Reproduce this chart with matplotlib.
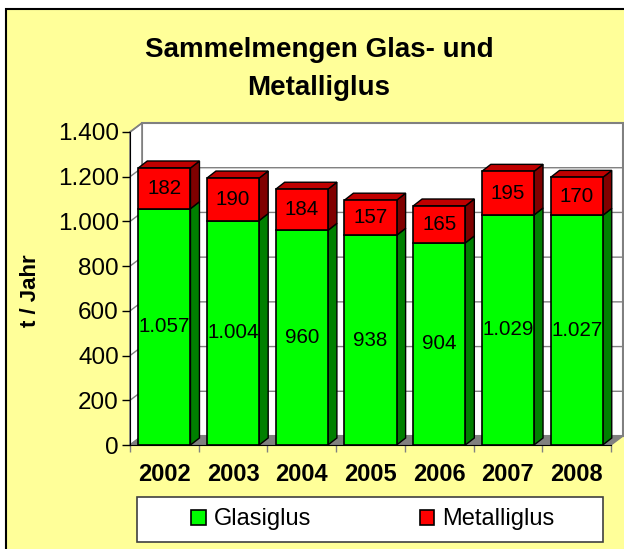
import matplotlib
matplotlib.use("Agg")
import matplotlib.pyplot as plt
from matplotlib.patches import Polygon, Rectangle
from matplotlib.ticker import FuncFormatter

plt.rcParams['font.family'] = ['Liberation Sans', 'DejaVu Sans']

# data
years = ['2002', '2003', '2004', '2005', '2006', '2007', '2008']
glas = [1057, 1004, 960, 938, 904, 1029, 1027]
metall = [182, 190, 184, 157, 165, 195, 170]
y_ticks = [0, 200, 400, 600, 800, 1000, 1200, 1400]

W, H = 624, 549
BG = '#FFFF99'


def de(v):
    # german thousands separator
    return "{:,}".format(int(v)).replace(",", ".")


fig = plt.figure(figsize=(W / 100, H / 100), dpi=100, facecolor='white')
fig.add_artist(Rectangle((6 / W, -0.01), 1.1, (H - 9) / H + 0.01,
                         transform=fig.transFigure, facecolor=BG,
                         edgecolor='black', lw=1.5, zorder=0))

ax = fig.add_axes([130 / W, (H - 445) / H, 481 / W, 313 / H])
ax.set_facecolor('none')
ax.set_xlim(0, 7)
ax.set_ylim(0, 1400)

# pixel -> data units
ux = 7 / 481
uy = 1400 / 313
wdx, wdy = 12 * ux, 9 * uy   # wall depth
bdx, bdy = 9 * ux, 7 * uy    # bar depth

# walls + floor
ax.add_patch(Rectangle((wdx, wdy), 7, 1400, facecolor='white', edgecolor='#808080',
                       lw=1.5, clip_on=False, zorder=0.5))
ax.add_patch(Polygon([(0, 0), (wdx, wdy), (wdx, 1400 + wdy), (0, 1400)], closed=True,
                     facecolor='white', edgecolor='#808080', lw=1.2, clip_on=False, zorder=0.5))
for v in y_ticks[1:]:
    ax.plot([0, wdx, 7 + wdx], [v, v + wdy, v + wdy], color='#808080', lw=1,
            clip_on=False, zorder=0.6)
ax.add_patch(Polygon([(0, 0), (7, 0), (7 + wdx, wdy), (wdx, wdy)], closed=True,
                     facecolor='#808080', edgecolor='#808080', lw=1, clip_on=False, zorder=0.7))

# bars
x = [i + 0.5 for i in range(len(years))]
bw = 0.76
bars_g = ax.bar(x, glas, bw, color='#00FF00', edgecolor='black', lw=1.2, zorder=3)
bars_m = ax.bar(x, metall, bw, bottom=glas, color='#FF0000', edgecolor='black', lw=1.2, zorder=3)

for xi, g, m in zip(x, glas, metall):
    r = xi + bw / 2
    l = xi - bw / 2
    t = g + m
    ax.add_patch(Polygon([(r, 0), (r + bdx, bdy), (r + bdx, g + bdy), (r, g)], closed=True,
                         facecolor='#008000', edgecolor='black', lw=1, zorder=2.5, clip_on=False))
    ax.add_patch(Polygon([(r, g), (r + bdx, g + bdy), (r + bdx, t + bdy), (r, t)], closed=True,
                         facecolor='#800000', edgecolor='black', lw=1, zorder=2.5, clip_on=False))
    ax.add_patch(Polygon([(l, t), (l + bdx, t + bdy), (r + bdx, t + bdy), (r, t)], closed=True,
                         facecolor='#C00000', edgecolor='black', lw=1, zorder=2.5, clip_on=False))
    ax.text(xi, g / 2, de(g), ha='center', va='center', fontsize=14.8, zorder=5)
    ax.text(xi, g + m / 2, de(m), ha='center', va='center', fontsize=14.8, zorder=5)

# axes
for s in ['top', 'right']:
    ax.spines[s].set_visible(False)
ax.spines['left'].set_color('black')
ax.spines['bottom'].set_color('black')
ax.spines['left'].set_zorder(4)
ax.spines['bottom'].set_zorder(4)

ax.set_yticks(y_ticks)
ax.yaxis.set_major_formatter(FuncFormatter(lambda v, p: de(v)))
ax.tick_params(axis='y', direction='out', length=6, width=1, labelsize=17.5, pad=2)

ax.set_xticks(range(8))
ax.set_xticklabels([''] * 8)
ax.set_xticks(x, minor=True)
ax.set_xticklabels(years, minor=True, fontweight='bold', fontsize=17)
ax.tick_params(axis='x', which='major', direction='out', length=5, width=1, color='#808080')
ax.tick_params(axis='x', which='minor', length=0, pad=13)

fig.text(31 / W, 1 - 291 / H, 't / Jahr', rotation=90, fontweight='bold', fontsize=16,
         ha='center', va='center')

fig.text(319 / W, 1 - 57 / H, 'Sammelmengen Glas- und', ha='center', va='baseline',
         fontweight='bold', fontsize=20)
fig.text(319 / W, 1 - 95 / H, 'Metalliglus', ha='center', va='baseline',
         fontweight='bold', fontsize=20)

# legend
fig.add_artist(Rectangle((137 / W, 1 - 542 / H), 466 / W, 45 / H, transform=fig.transFigure,
                         facecolor='white', edgecolor='#404040', lw=1.2, zorder=1))
fig.legend([bars_g, bars_m], ['Glasiglus', 'Metalliglus'], loc='center',
           bbox_to_anchor=(373 / W, 1 - 519.5 / H), ncol=2, frameon=False, fontsize=17,
           handlelength=0.6, handleheight=0.6, handletextpad=0.35, columnspacing=4.6)

fig.savefig('out.png', dpi=100, facecolor=fig.get_facecolor())
